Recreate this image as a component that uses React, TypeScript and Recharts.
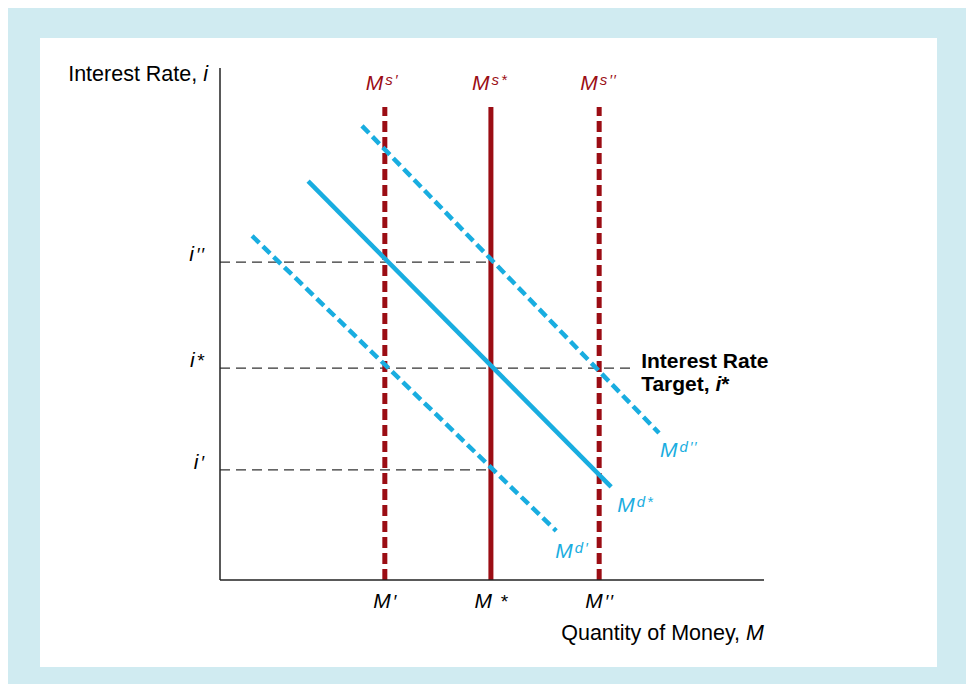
import React from "react";
import { ComposedChart, Line, XAxis, YAxis, ReferenceLine, ReferenceDot } from "recharts";

const supplyLevels = [30.3, 49.8, 69.7];
const supplyMarks = ["′", "*", "′′"];
const supplyDashed = [true, false, true];
const supplyTop = 92.4;

const rateLevels = [21.5, 41.4, 62.1];
const rateMarks = ["′", "*", "′′"];
const guideEnds = [49.8, 75.4, 49.8];

const demandLow = [
  { x: 5.9, y: 67.2 },
  { x: 61.8, y: 9.6 },
];
const demandStar = [
  { x: 16.2, y: 77.9 },
  { x: 71.9, y: 18.2 },
];
const demandHigh = [
  { x: 26.1, y: 88.7 },
  { x: 80.7, y: 28.7 },
];
const demandMarks = ["′", "*", "′′"];

const FONT = "'Liberation Sans', Arial, Helvetica, sans-serif";
const RED = "#9b0d14";
const BLUE = "#19ade0";
const FS = 21;
const SUP = 15;

function Marks({ mark, size }: any) {
  if (mark === "′′") {
    return (
      <>
        <tspan fontSize={size} dx={2}>′</tspan>
        <tspan fontSize={size} dx={1}>′</tspan>
      </>
    );
  }
  return <tspan fontSize={size} dx={2}>{mark}</tspan>;
}

function SupLabel({ x, y, sup, mark, color }: any) {
  return (
    <text x={x} y={y} fill={color} fontFamily={FONT} fontSize={FS} fontStyle="italic">
      <tspan>M</tspan>
      <tspan fontSize={SUP} dx={2} dy={-5}>{sup}</tspan>
      <tspan fontSize={SUP} dy={-2}></tspan>
      <Marks mark={mark} size={SUP} />
    </text>
  );
}

function demandLabel(mark: string, dx: number, dy: number) {
  return (p: any) => {
    if (p.index !== 1) return null;
    return <SupLabel x={p.x + dx} y={p.y + dy} sup="d" mark={mark} color={BLUE} />;
  };
}

function XTick(p: any) {
  const i = supplyLevels.indexOf(p.payload.value);
  return (
    <text x={p.x} y={p.y} textAnchor="middle" fontFamily={FONT} fontSize={FS} fontStyle="italic" fill="#000" dy={20}>
      M{i === 1 ? " " : ""}
      <Marks mark={supplyMarks[i]} size={FS - 2} />
    </text>
  );
}

function YTick(p: any) {
  const i = rateLevels.indexOf(p.payload.value);
  return (
    <text x={p.x} y={p.y} textAnchor="end" fontFamily={FONT} fontSize={FS} fontStyle="italic" fill="#000" dx={-8} dy={-1}>
      i
      <Marks mark={rateMarks[i]} size={FS - 2} />
    </text>
  );
}

export default function App() {
  return (
    <div style={{ position: "relative", width: 974, height: 692, margin: -8 }}>
      <div style={{ position: "absolute", left: 8, top: 6, width: 958, height: 680, background: "#d0ebf1" }} />
      <div style={{ position: "absolute", left: 40, top: 38, width: 897, height: 629, background: "#ffffff" }} />
      <div style={{ position: "absolute", left: 0, top: 0 }}>
        <ComposedChart width={974} height={692} margin={{ top: 68, right: 210, bottom: 82, left: 160 }}>
          <XAxis
            type="number"
            dataKey="x"
            domain={[0, 100]}
            ticks={supplyLevels}
            tick={<XTick />}
            tickLine={false}
            height={30}
            axisLine={{ stroke: "#222", strokeWidth: 1.5 }}
            allowDataOverflow
          />
          <YAxis
            type="number"
            dataKey="y"
            domain={[0, 100]}
            ticks={rateLevels}
            tick={<YTick />}
            tickLine={false}
            width={60}
            axisLine={{ stroke: "#222", strokeWidth: 1.5 }}
            allowDataOverflow
          />
          {rateLevels.map((lv, i) => (
            <ReferenceLine
              key={"g" + i}
              segment={[
                { x: 0, y: lv },
                { x: guideEnds[i], y: lv },
              ]}
              stroke="#333"
              strokeWidth={1.3}
              strokeDasharray="10 6"
            />
          ))}
          {supplyLevels.map((lv, i) => (
            <ReferenceLine
              key={"s" + i}
              segment={[
                { x: lv, y: 0 },
                { x: lv, y: supplyTop },
              ]}
              stroke={RED}
              strokeWidth={5}
              strokeDasharray={supplyDashed[i] ? "11 5" : undefined}
            />
          ))}
          {supplyLevels.map((lv, i) => (
            <ReferenceDot
              key={"sl" + i}
              x={lv}
              y={supplyTop}
              r={0}
              fill="none"
              stroke="none"
              label={(p: any) => (
                <SupLabel x={p.viewBox.x - 19} y={p.viewBox.y - 17} sup="s" mark={supplyMarks[i]} color={RED} />
              )}
            />
          ))}
          <Line data={demandLow} dataKey="y" type="linear" stroke={BLUE} strokeWidth={4.5} strokeDasharray="10 5" dot={false} isAnimationActive={false} label={demandLabel(demandMarks[0], -1, 27)} />
          <Line data={demandStar} dataKey="y" type="linear" stroke={BLUE} strokeWidth={4.5} dot={false} isAnimationActive={false} label={demandLabel(demandMarks[1], 6, 25)} />
          <Line data={demandHigh} dataKey="y" type="linear" stroke={BLUE} strokeWidth={4.5} strokeDasharray="10 5" dot={false} isAnimationActive={false} label={demandLabel(demandMarks[2], 1, 24)} />
          <ReferenceDot
            x={75.4}
            y={41.4}
            r={0}
            fill="none"
            stroke="none"
            label={(p: any) => (
              <text x={p.viewBox.x + 11} y={p.viewBox.y} fontFamily={FONT} fontSize={FS} fontWeight="bold" fill="#000">
                <tspan x={p.viewBox.x + 11} dy={0}>Interest Rate</tspan>
                <tspan x={p.viewBox.x + 11} dy={23}>Target, </tspan>
                <tspan fontStyle="italic">i</tspan>
                <tspan>*</tspan>
              </text>
            )}
          />
          <ReferenceDot
            x={0}
            y={100}
            r={0}
            fill="none"
            stroke="none"
            label={(p: any) => (
              <text x={p.viewBox.x - 12} y={p.viewBox.y + 13} textAnchor="end" fontFamily={FONT} fontSize={21.5} fill="#000">
                Interest Rate, <tspan fontStyle="italic">i</tspan>
              </text>
            )}
          />
          <ReferenceDot
            x={100}
            y={0}
            r={0}
            fill="none"
            stroke="none"
            label={(p: any) => (
              <text x={p.viewBox.x} y={p.viewBox.y + 60} textAnchor="end" fontFamily={FONT} fontSize={21.5} fill="#000">
                Quantity of Money, <tspan fontStyle="italic">M</tspan>
              </text>
            )}
          />
        </ComposedChart>
      </div>
    </div>
  );
}
